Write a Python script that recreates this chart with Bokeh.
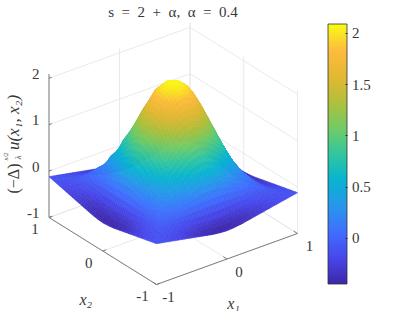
import numpy as np
from bokeh.plotting import figure
from bokeh.models import Range1d, ColorBar, LinearColorMapper, FixedTicker
from bokeh.core.properties import value
from bokeh.embed import file_html
from bokeh.resources import INLINE

# ---- values ----------------------------------------------------------
title_text = "s\u2002=\u20022\u2002+\u2002α,\u2002α\u2002=\u20020.4"
x_ticks = [-1, 0, 1]
z_ticks = [-1, 0, 1, 2]
z_top = 2.09
cbar_ticks = [0, 0.5, 1, 1.5, 2]
cbar_labels = {"0": "0", "0.5": "0.5", "1": "1", "1.5": "1.5", "2": "2"}
c_low, c_high = -0.445, 2.09
# surface heights for x1 = 0, .1 ... 1 (row) and x2 = 0, .1 ... x1 (column);
# the surface has the square's symmetry, so one octant gives the whole grid
row0 = [2.10]
row1 = [2.05, 2.00]
row2 = [1.90, 1.84, 1.64]
row3 = [1.60, 1.55, 1.40, 1.18]
row4 = [1.25, 1.21, 1.08, 0.92, 0.78]
row5 = [0.88, 0.84, 0.74, 0.61, 0.48, 0.42]
row6 = [0.48, 0.46, 0.40, 0.31, 0.22, 0.17, 0.15]
row7 = [0.08, 0.08, 0.07, 0.05, 0.03, 0.02, 0.00, -0.02]
row8 = [-0.28, -0.27, -0.26, -0.24, -0.20, -0.16, -0.13, -0.11, -0.10]
row9 = [-0.44, -0.43, -0.41, -0.38, -0.33, -0.27, -0.22, -0.17, -0.14, -0.12]
row10 = [-0.39, -0.38, -0.36, -0.33, -0.30, -0.27, -0.24, -0.21, -0.18, -0.15, -0.12]
octant = [row0, row1, row2, row3, row4, row5, row6, row7, row8, row9, row10]

# ---- style / view -----------------------------------------------------
parula_pos = [0, .1, .2, .3, .4, .5, .6, .7, .8, .9, 1]
parula_rgb = np.array([[.2422, .1504, .6603], [.2803, .2782, .9221], [.2440, .4358, .9988],
                       [.1540, .5902, .9218], [.0297, .7082, .8163], [.1938, .7758, .6251],
                       [.4420, .7970, .4000], [.7000, .7500, .2300], [.8900, .7200, .2000],
                       [.9900, .7400, .2400], [.9769, .9839, .0805]])
palette = ["#%02x%02x%02x" % tuple(int(round(255 * np.interp(t, parula_pos, parula_rgb[:, k]))) for k in range(3))
           for t in np.linspace(0, 1, 256)]
SERIF = "Liberation Serif"
ORIGIN = np.array([172.75, 225.0])
E1 = np.array([70.5, -25.5])
E2 = np.array([-53.75, -33.5])
ZU = 46.4


def proj(a, b, z):
    a, b, z = np.asarray(a, float), np.asarray(b, float), np.asarray(z, float)
    return (ORIGIN[0] + E1[0] * a + E2[0] * b,
            ORIGIN[1] + E1[1] * a + E2[1] * b - ZU * (z + 1))


p = figure(width=391, height=311, x_range=Range1d(0, 391), y_range=Range1d(311, 0),
           output_backend="svg", toolbar_location=None, min_border=0)
p.axis.visible = False
p.grid.visible = False
p.outline_line_color = None
p.background_fill_color = None

# back walls and floor grid
GRID = "#e4e4e4"
gx, gy = [], []


def seg(a0, b0, z0, a1, b1, z1, xs, ys):
    x, y = proj([a0, a1], [b0, b1], [z0, z1])
    xs.append(list(x))
    ys.append(list(y))


for t in x_ticks:
    seg(t, 1, -1, t, -1, -1, gx, gy)
    seg(1, t, -1, -1, t, -1, gx, gy)
    seg(t, 1, -1, t, 1, z_top, gx, gy)
    seg(1, t, -1, 1, t, z_top, gx, gy)
for z in z_ticks:
    seg(-1, 1, z, 1, 1, z, gx, gy)
    seg(1, 1, z, 1, -1, z, gx, gy)
p.multi_line(gx, gy, line_color=GRID, line_width=0.8)

# axes
AX = "#707070"
ax, ay = [], []
seg(-1, 1, -1, -1, 1, z_top, ax, ay)
seg(-1, 1, -1, -1, -1, -1, ax, ay)
seg(-1, -1, -1, 1, -1, -1, ax, ay)
for z in z_ticks:
    seg(-1, 1, z, -0.96, 1, z, ax, ay)
for t in x_ticks:
    seg(t, -1, -1, t, -0.93, -1, ax, ay)
    seg(-1, t, -1, -0.95, t, -1, ax, ay)
p.multi_line(ax, ay, line_color=AX, line_width=0.9)

# surface
n = 10
zg = np.zeros((2 * n + 1, 2 * n + 1))
for i in range(-n, n + 1):
    for j in range(-n, n + 1):
        a, b = max(abs(i), abs(j)), min(abs(i), abs(j))
        zg[i + n, j + n] = octant[a][b]
grid = np.linspace(-1, 1, 2 * n + 1)
SUB = 3
frac = np.linspace(0, 1, SUB + 1)
xs, ys, cols = [], [], []
mapper = LinearColorMapper(palette=palette, low=c_low, high=c_high)
for i in range(2 * n - 1, -1, -1):          # far to near
    for si in range(SUB - 1, -1, -1):
        for j in range(2 * n - 1, -1, -1):
            for sj in range(SUB - 1, -1, -1):
                fa = np.array([frac[si], frac[si + 1], frac[si + 1], frac[si]])
                fb = np.array([frac[sj], frac[sj], frac[sj + 1], frac[sj + 1]])
                z = (zg[i, j] * (1 - fa) * (1 - fb) + zg[i + 1, j] * fa * (1 - fb)
                     + zg[i, j + 1] * (1 - fa) * fb + zg[i + 1, j + 1] * fa * fb)
                a = grid[i] + fa * (grid[i + 1] - grid[i])
                b = grid[j] + fb * (grid[j + 1] - grid[j])
                x, y = proj(a, b, z)
                xs.append(list(x))
                ys.append(list(y))
                t = np.clip((z.mean() - c_low) / (c_high - c_low), 0, 1)
                cols.append(palette[int(round(t * 255))])
p.patches(xs, ys, fill_color=cols, line_color=cols, line_width=0.6)

# tick labels
TXT = "#383838"


def label(x, y, s, size="15px", style="normal", angle=0.0, align="center", color=TXT):
    p.text([x], [y], text=[s], text_font=value(SERIF), text_font_size=value(size),
           text_font_style=value(style), text_align=value(align), text_baseline=value("middle"),
           text_color=value(color), angle=angle)


for z, s in zip(z_ticks, ["-1", "0", "1", "2"]):
    x, y = proj(-1, 1, z)
    label(x - 9.5, y - 4.5, s, align="right")
for t, s in zip(x_ticks, ["-1", "0", "1"]):
    x, y = proj(t, -1, -1)
    label(x + 12, y + 12.5, s)
    x, y = proj(-1, t, -1)
    label(x - 14, y + 11.5, s)

x, y = proj(0, -1, -1)
label(x + 6.5, y + 44.5, "x₁", size="16px", style="italic")
x, y = proj(-1, 0, -1)
label(x - 17, y + 48.5, "x₂", size="16px", style="italic")

# title
label(172.5, 11.5, title_text)

# z label, written bottom to top
ANG = np.pi / 2
label(13, 178, "(−Δ)", size="16px", angle=ANG)
label(5, 156, "s/2", size="7px", style="italic", angle=ANG)
label(18, 157, "λ", size="8px", style="italic", angle=ANG)
label(13, 122, "u(x₁, x₂)", size="17px", style="italic", angle=ANG)

# colour bar
cb = ColorBar(color_mapper=mapper, location=(327.5, 311 - 283.5), width=19, height=260,
              ticker=FixedTicker(ticks=cbar_ticks), major_label_overrides=cbar_labels,
              major_label_text_font=SERIF, major_label_text_font_size="15px",
              major_label_text_color=TXT, major_tick_line_color="#303030",
              major_tick_in=2, major_tick_out=0, minor_tick_line_color=None,
              bar_line_color="#303030", bar_line_width=0.8, label_standoff=5,
              background_fill_color=None, border_line_color=None, padding=0)
p.add_layout(cb, "center")

open("out.html", "w").write(file_html(p, INLINE))
